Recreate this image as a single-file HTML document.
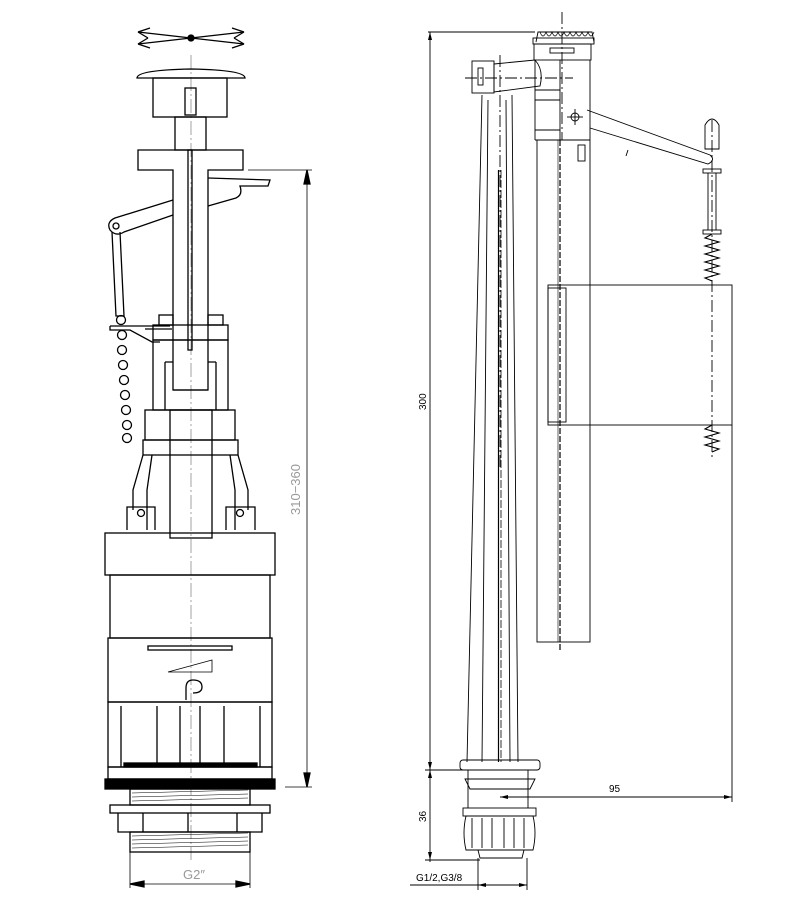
<!DOCTYPE html>
<html><head><meta charset="utf-8"><style>
html,body{margin:0;padding:0;background:#fff}
svg{display:block}
text{font-family:"Liberation Sans",sans-serif}
</style></head><body>
<svg width="787" height="898" viewBox="0 0 787 898" xmlns="http://www.w3.org/2000/svg">
<g fill="none" stroke="#000" stroke-width="1.3">
<line x1="138" y1="32" x2="244" y2="44"/><line x1="138" y1="44" x2="244" y2="32"/>
<path d="M138 32 l12 -4 M138 32 l10 6 M138 44 l12 4 M138 44 l10 -6 M244 32 l-12 -4 M244 32 l-10 6 M244 44 l-12 4 M244 44 l-10 -6"/>
<circle cx="191" cy="38" r="3" fill="#000"/>
<line x1="191" y1="55" x2="191" y2="860" stroke-width="0.6" stroke-dasharray="14,3,2,3" stroke="#666"/>
<path d="M137 78 Q137 70 191 69 Q245 70 245 78 Z"/>
<rect x="153" y="78" width="74" height="39"/>
<rect x="185" y="88" width="11" height="27"/>
<rect x="175" y="117" width="31" height="33"/>
<path d="M138 150 H243 V170 H208 V390 H173 V170 H138 Z"/>
<rect x="188" y="150" width="4" height="200"/>
<path d="M208 178 L270 180 L268 186 L240 186 Q243 195 236 198 L208 206"/>
<path d="M173 200 L115 218 Q106 222 110 230 Q116 237 124 232 L173 215"/>
<circle cx="116" cy="226" r="3"/>
<path d="M112 232 L116 316 H124 L120 232"/>
<g>
<circle cx="121" cy="320" r="4.5"/><circle cx="122" cy="335" r="4.5"/><circle cx="122" cy="350" r="4.5"/><circle cx="123" cy="365" r="4.5"/><circle cx="124" cy="380" r="4.5"/><circle cx="125" cy="395" r="4.5"/><circle cx="126" cy="410" r="4.5"/><circle cx="127" cy="425" r="4.5"/><circle cx="127" cy="438" r="4.5"/>
</g>
<path d="M110 326 H170 M110 326 V330 H130 L152 342 H160"/>
<line x1="145" y1="329" x2="172" y2="329"/>
<rect x="159" y="315" width="14" height="10"/><rect x="208" y="315" width="15" height="10"/>
<rect x="153" y="325" width="75" height="15"/>
<rect x="153" y="340" width="75" height="70"/>
<path d="M165 362 V410 M216 362 V410 M165 362 H173 M208 362 H216 M173 390 H208"/>
<rect x="170" y="410" width="42" height="128"/>
<rect x="145" y="410" width="90" height="30"/>
<rect x="143" y="440" width="95" height="15"/>
<path d="M143 455 L133 490 V510 M238 455 L248 490 V510 M152 455 L147 490 V530 M230 455 L235 490 V530"/>
<path d="M127 530 V507 H155 V530 M226 530 V507 H255 V530"/>
<circle cx="141" cy="513" r="3.5"/><circle cx="240" cy="513" r="3.5"/>
<rect x="105" y="533" width="170" height="42"/>
<rect x="110" y="575" width="160" height="63"/>
<rect x="108" y="638" width="164" height="64"/>
<rect x="148" y="646" width="84" height="4"/>
<path d="M168 672 L212 660 V672 Z" stroke-width="0.8"/>
<path d="M186 700 V688 Q186 680 193 680 Q202 680 202 687 Q202 693 193 693"/>
<rect x="108" y="702" width="164" height="65"/>
<path d="M121 706 V767 M157 706 V765 M180 706 V765 M200 706 V765 M224 706 V765 M260 706 V767"/>
<rect x="124" y="763" width="133" height="4" fill="#000"/>
<rect x="108" y="767" width="164" height="12"/>
<rect x="105" y="779" width="170" height="10" fill="#000"/>
<rect x="130" y="789" width="120" height="16"/>
<path d="M132 793 L248 790 M132 797 L248 794 M132 801 L248 798" stroke-width="0.6"/>
<rect x="110" y="805" width="160" height="8"/>
<path d="M118 813 V832 H262 V813 M143 813 V832 M237 813 V832 M188 813 V832"/>
<rect x="130" y="832" width="120" height="20"/>
<path d="M132 836 L248 833 M132 840 L248 837 M132 844 L248 841 M132 848 L248 845" stroke-width="0.6"/>
<g stroke-width="0.8"><line x1="130" y1="852" x2="130" y2="888"/><line x1="250" y1="852" x2="250" y2="888"/><line x1="130" y1="884" x2="250" y2="884"/></g>
<path d="M130 884 l14 -3 v6 Z M250 884 l-14 -3 v6 Z" fill="#000"/>
<g stroke-width="0.8"><line x1="307" y1="170" x2="307" y2="787"/><line x1="248" y1="170" x2="312" y2="170"/><line x1="285" y1="787" x2="312" y2="787"/></g>
<path d="M307 170 l-3 14 h6 Z M307 787 l-3 -14 h6 Z" fill="#000"/>

<g stroke-width="0.9">
<line x1="430" y1="32" x2="430" y2="862"/><line x1="428" y1="32" x2="535" y2="32"/>
<line x1="425" y1="770" x2="470" y2="770"/><line x1="425" y1="860" x2="480" y2="860"/>
<path d="M536 42 L538 32 H592 L594 42"/>
<path d="M540 32 q3 8 6 0 q3 8 6 0 q3 8 6 0 q3 8 6 0 q3 8 6 0 q3 8 6 0 q3 8 6 0 q3 8 6 0 q3 8 6 0" stroke-width="0.7"/>
<rect x="533" y="38" width="61" height="6"/>
<rect x="534" y="44" width="57" height="16"/>
<rect x="550" y="48" width="24" height="5"/>
<line x1="562" y1="12" x2="562" y2="140" stroke-dasharray="12,3,2,3"/>
<rect x="472" y="61" width="22" height="32"/>
<rect x="478" y="68" width="5" height="17"/>
<path d="M494 64 L535 60 Q544 70 540 86 L494 92 Z"/>
<line x1="465" y1="78" x2="573" y2="78" stroke-dasharray="12,3,2,3"/>
<line x1="500" y1="55" x2="500" y2="470" stroke-dasharray="12,3,2,3"/>
<path d="M535 60 V140 M590 60 V140 M535 90 H560 M535 100 H560 M535 130 H560 M535 140 H560"/>
<path d="M560 60 V140 H590" />
<rect x="537" y="140" width="53" height="502"/>
<line x1="560" y1="140" x2="560" y2="650" stroke-dasharray="6,2" stroke-width="1.2"/>
<line x1="558" y1="140" x2="558" y2="642" stroke-width="0.6"/>
<rect x="578" y="145" width="7" height="16"/>
<circle cx="575" cy="117" r="4"/><line x1="567" y1="117" x2="583" y2="117"/><line x1="575" y1="109" x2="575" y2="125"/>
<path d="M587 110 L710 155 Q716 160 708 164 L590 128"/>
<path d="M628 150 l-2 6"/>
<path d="M705 149 V125 Q712 113 719 125 V149 Z"/>
<line x1="712" y1="120" x2="712" y2="460" stroke-dasharray="12,3,2,3"/>
<rect x="703" y="169" width="18" height="4"/>
<rect x="703" y="230" width="18" height="4"/>
<line x1="708" y1="173" x2="708" y2="230"/><line x1="716" y1="173" x2="716" y2="230"/>
<path d="M712 234 l-7 4 l14 4 l-14 4 l14 4 l-14 4 l14 4 l-14 4 l14 4 l-14 4 l14 4 l-14 4 l7 3" stroke-width="1.1"/>
<path d="M712 425 l-7 4 l14 4 l-14 4 l14 4 l-14 4 l14 4 l-7 3" stroke-width="1.1"/>
<rect x="548" y="285" width="184" height="140"/>
<rect x="548" y="288" width="18" height="134"/>
<path d="M482 95 L467 762 M512 95 L518 762 M488 100 L482 762 M506 100 L510 762"/>
<line x1="498.5" y1="170" x2="498.5" y2="762" stroke-width="1.2"/>
<line x1="501" y1="170" x2="501" y2="762" stroke-width="0.8" stroke-dasharray="8,2"/>
<rect x="460" y="760" width="80" height="10" rx="3"/>
<line x1="468" y1="770" x2="468" y2="808"/><line x1="528" y1="770" x2="528" y2="808"/>
<path d="M465 779 H535 L530 789 H470 Z"/>
<rect x="463" y="808" width="73" height="8"/>
<path d="M466 816 H533 Q537 833 533 850 H466 Q462 833 466 816 Z"/>
<path d="M472 818 V848 M482 818 V848 M492 818 V848 M504 818 V848 M514 818 V848 M524 818 V848"/>
<path d="M478 850 L480 858 H522 L524 850"/>
<line x1="500" y1="797" x2="732" y2="797"/><line x1="732" y1="425" x2="732" y2="802"/>
<line x1="410" y1="885" x2="527" y2="885"/><line x1="478" y1="858" x2="478" y2="890"/><line x1="527" y1="858" x2="527" y2="890"/>
</g>
</g>
<path d="M430 32 l-2 8 h4 Z M430 770 l-2 -8 h4 Z M430 770 l-2 8 h4 Z M430 860 l-2 -8 h4 Z M500 797 l8 -2 v4 Z M732 797 l-8 -2 v4 Z M478 885 l8 -2 v4 Z M527 885 l-8 -2 v4 Z" fill="#000"/>
<g fill="#999" font-size="13">
<text x="183" y="879" font-size="13">G2″</text>
<text transform="translate(300,515) rotate(-90)" font-size="13">310−360</text>
</g>
<g fill="#000" font-size="10">
<text transform="translate(426,410) rotate(-90)">300</text>
<text transform="translate(426,822) rotate(-90)">36</text>
<text x="609" y="792">95</text>
<text x="416" y="881">G1/2,G3/8</text>
</g>
</svg>
</body></html>
